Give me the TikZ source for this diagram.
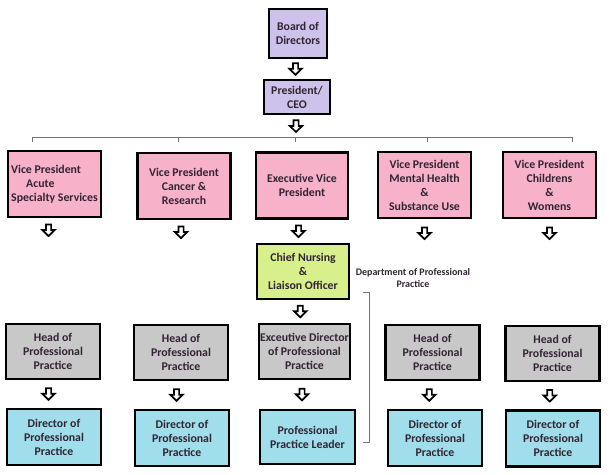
\documentclass[tikz,border=0pt]{standalone}
\usepackage{fontspec}
\setmainfont{Carlito}
\usetikzlibrary{calc}
\definecolor{lav}{RGB}{204,194,236}
\definecolor{pinkb}{RGB}{247,178,202}
\definecolor{greenb}{RGB}{216,240,140}
\definecolor{grayb}{RGB}{200,200,200}
\definecolor{blueb}{RGB}{160,222,236}
\definecolor{txt}{RGB}{50,36,50}
\begin{document}
\begin{tikzpicture}[x=1pt,y=-1pt,
  box/.style={draw=black, line width=2.5pt, align=center, inner sep=0pt,
    font=\fontsize{11.8}{14}\selectfont\bfseries, text=txt},
  vpbox/.style={box, fill=pinkb, minimum width=93pt, minimum height=66pt},
  graybox/.style={box, fill=grayb, minimum width=94pt, minimum height=55pt},
  bluebox/.style={box, fill=blueb, minimum width=94pt, minimum height=56pt},
  darr/.pic={\draw[line width=1.7pt, fill=white, line join=miter, miter limit=4]
    (-2.6,-5.8) -- (2.6,-5.8) -- (2.6,-0.2) -- (6.2,-0.2) -- (0,5.8) -- (-6.2,-0.2) -- (-2.6,-0.2) -- cycle;},
  brk/.style={draw=black!55, line width=0.9pt}]
\useasboundingbox (0,0) rectangle (612,474);

% top
\node[box, fill=lav, minimum width=58pt, minimum height=49pt] (board) at (298,33.5) {Board of\\Directors};
\node[box, fill=lav, minimum width=66pt, minimum height=34pt] (pres) at (297,97) {President/\\CEO};
\pic at ($(board.south)!.5!(pres.north)+(-2,0)$) {darr};

% bracket
\coordinate (barC) at (295,137);
\coordinate (bl) at (32,137);
\coordinate (br) at (572,137);
\coordinate (t2) at (178,137);
\coordinate (t4) at (427,137);
\pic at ($(pres.south)!.5!(barC)$) {darr};
\draw[brk] ($(bl)+(0,5)$) -- (bl) -- (br) -- ++(0,5);
\draw[brk] (t2) -- ++(0,5);
\draw[brk] (barC) -- ++(0,5);
\draw[brk] (t4) -- ++(0,5);

% VPs
\node[vpbox, align=left] (vp1) at (54.5,184) {Vice President\\\hspace{15pt}Acute\\Specialty Services};
\node[vpbox] (vp2) at (184,186) {Vice President\\Cancer \&\\Research};
\node[vpbox, minimum width=92pt] (evp) at (302,185.5) {Executive Vice\\President};
\node[vpbox] (vp4) at (424.5,185) {Vice President\\Mental Health\\\&\\Substance Use};
\node[vpbox] (vp5) at (549.5,185) {Vice President\\Childrens\\\&\\Womens};

\pic at ($(vp1.south)+(-6,12)$) {darr};
\pic at ($(vp2.south)+(-3,12)$) {darr};
\pic at ($(vp4.south)+(0,14)$) {darr};
\pic at ($(vp5.south)+(0,14)$) {darr};

% chief nursing
\node[box, fill=greenb, minimum width=92pt, minimum height=55pt] (chief) at (303,271.5) {Chief Nursing\\\&\\Liaison Officer};
\pic at ($(evp.south)!.5!(chief.north)+(-4,0)$) {darr};

\node[font=\fontsize{10}{11.5}\selectfont\bfseries, text=txt, align=center] (dept) at (413,278) {Department of Professional\\Practice};

% gray row
\node[graybox] (g1) at (53,351.5) {Head of\\Professional\\Practice};
\node[graybox] (g2) at (181,352.5) {Head of\\Professional\\Practice};
\node[graybox, minimum width=91pt] (g3) at (304.5,351.5) {Exceutive Director\\of Professional\\Practice};
\node[graybox] (g4) at (432.5,352.5) {Head of\\Professional\\Practice};
\node[graybox] (g5) at (552.5,353.5) {Head of\\Professional\\Practice};
\pic at ($(chief.south)!.5!(g3.north)+(-3.5,0)$) {darr};

% blue row
\node[bluebox] (b1) at (54,437) {Director of\\Professional\\Practice};
\node[bluebox] (b2) at (182,438) {Director of\\Professional\\Practice};
\node[bluebox, minimum width=95pt, minimum height=54pt] (b3) at (307.5,437) {Professional\\Practice Leader};
\node[bluebox] (b4) at (435,438) {Director of\\Professional\\Practice};
\node[bluebox] (b5) at (553,438.5) {Director of\\Professional\\Practice};

\pic at ($(g1.south)!.5!(b1.north)+(-5,0)$) {darr};
\pic at ($(g2.south)!.5!(b2.north)+(-5,0)$) {darr};
\pic at ($(g3.south)!.5!(b3.north)+(-4,0)$) {darr};
\pic at ($(g4.south)!.5!(b4.north)+(-4.5,0)$) {darr};
\pic at ($(g5.south)!.5!(b5.north)+(-3,0)$) {darr};

% department bracket
\coordinate (dt) at (369,292);
\coordinate (db) at (369,442);
\draw[brk] ($(dt)+(-6,0)$) -- (dt) -- (db) -- ++(-6,0);
\end{tikzpicture}
\end{document}
